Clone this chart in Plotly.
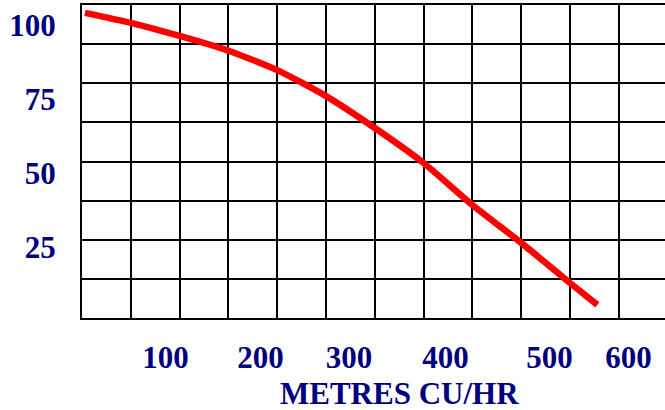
import plotly.graph_objects as go

# Curve data (flow in metres cu/hr vs. percent)
flow = [3, 50, 100, 150, 200, 250, 300, 350, 400, 450, 500, 528]
head = [97.5, 94.3, 90.1, 85.4, 79.2, 70.9, 60.7, 49.5, 36.1, 24.0, 11.2, 4.2]

# Tick labels as they appear (placed where the picture shows them)
x_tick_pos = [85.5, 182.9, 273.6, 372.5, 479.0, 559.9]
x_tick_text = ["100", "200", "300", "400", "500", "600"]
y_tick_pos = [93.5, 70.0, 46.2, 22.5]
y_tick_text = ["100", "75", "50", "25"]

navy = "#000080"
font_family = "Liberation Serif"

fig = go.Figure()
fig.add_trace(go.Scatter(
    x=flow, y=head, mode="lines",
    line=dict(color="#ff0000", width=6.5, shape="spline", smoothing=0.6),
    hoverinfo="skip", showlegend=False,
))

fig.update_layout(
    width=665, height=410,
    margin=dict(l=82, r=0, t=5, b=92),
    paper_bgcolor="white", plot_bgcolor="white",
    font=dict(family=font_family, color=navy, size=31),
    xaxis=dict(
        range=[0, 597.3], showgrid=False, zeroline=False, automargin=False,
        showline=True, linecolor="black", linewidth=2, mirror=True,
        tickmode="array", tickvals=x_tick_pos, ticktext=x_tick_text,
        ticks="", ticklabelstandoff=11,
        tickfont=dict(family=font_family, color=navy, size=31, weight="bold"),
        minor=dict(tick0=0, dtick=50, showgrid=True, gridcolor="black", gridwidth=2, ticks=""),
        fixedrange=True,
    ),
    yaxis=dict(
        range=[0, 100], showgrid=False, zeroline=False, automargin=False,
        showline=True, linecolor="black", linewidth=2, mirror=False,
        tickmode="array", tickvals=y_tick_pos, ticktext=y_tick_text,
        ticks="", ticklabelstandoff=18,
        tickfont=dict(family=font_family, color=navy, size=31, weight="bold"),
        minor=dict(tick0=0, dtick=12.5, showgrid=True, gridcolor="black", gridwidth=2, ticks=""),
        fixedrange=True,
    ),
    annotations=[dict(
        text="<b>METRES CU/HR</b>", xref="paper", yref="paper",
        x=0.545, y=-0.240, xanchor="center", yanchor="middle", borderpad=0,
        showarrow=False, font=dict(family=font_family, color=navy, size=31),
    )],
)

fig.write_html(
    "out.html",
    config={"displayModeBar": False},
    post_script="document.body.style.margin='0';document.body.style.overflow='hidden';",
)
